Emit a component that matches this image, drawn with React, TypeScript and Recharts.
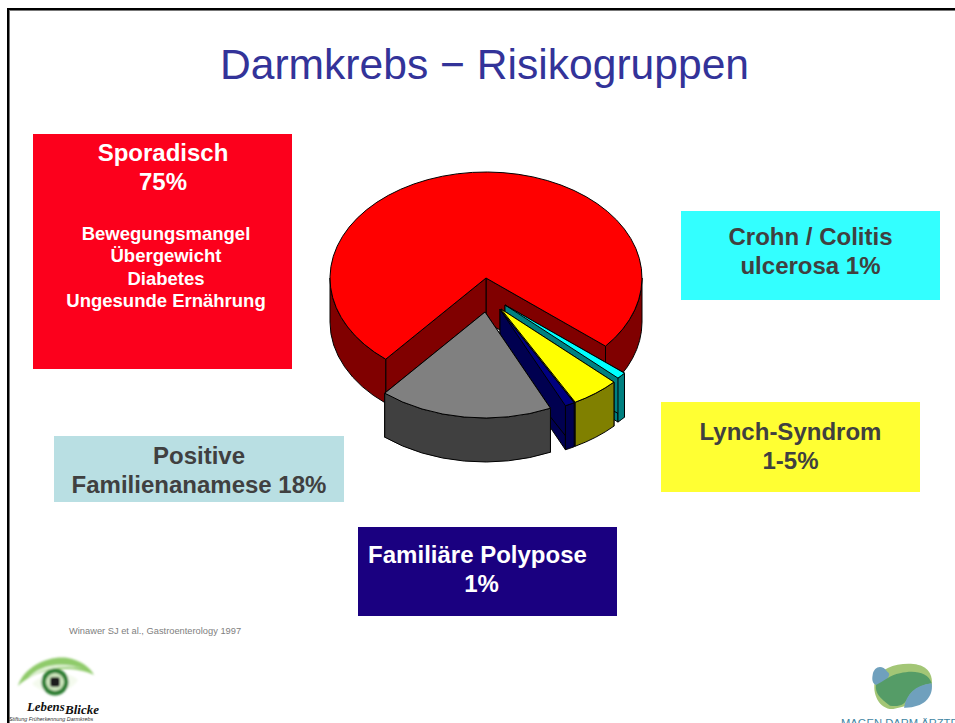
import { PieChart, Pie, Cell } from 'recharts';

const RISK_GROUPS = ['Sporadisch', 'Crohn / Colitis', 'Lynch-Syndrom', 'Familiäre Polypose', 'Positive Familienanamnese'];
const RISK_SHARES = [75, 1, 5, 1, 18];
const TOP_COLORS = ['#ff0000', '#00ffff', '#ffff00', '#000080', '#808080'];
const SIDE_COLORS = ['#800000', '#008080', '#808000', '#000050', '#404040'];
// how far each slice is pulled out of the pie
const PULL_X = [0, 19, 15, 14, -1];
const PULL_Y = [0, 27, 31, 31.5, 34];

const pieData = RISK_GROUPS.map((name, i) => ({ name, value: RISK_SHARES[i], index: i }));

const TITLE = 'Darmkrebs − Risikogruppen';
const SPORADIC_HEAD = ['Sporadisch', '75%'];
const SPORADIC_FACTORS = ['Bewegungsmangel', 'Übergewicht', 'Diabetes', 'Ungesunde Ernährung'];
const FAMILY_LINES = ['Positive', 'Familienanamese 18%'];
const CROHN_LINES = ['Crohn / Colitis', 'ulcerosa 1%'];
const LYNCH_LINES = ['Lynch-Syndrom', '1-5%'];
const POLYPOSIS_LINES = ['Familiäre Polypose', '1%'];
const SOURCE = 'Winawer SJ et al., Gastroenterology 1997';

const FONT = '"Liberation Sans", Arial, sans-serif';
const SQUASH = 106 / 156;
const DEPTH = 44;

function Slice3D(props: any) {
  const { cx, cy, outerRadius: rx, startAngle, endAngle, payload } = props;
  const i = payload.index ?? props.index;
  const ox = cx + PULL_X[i];
  const oy = cy + PULL_Y[i];
  const ry = rx * SQUASH;
  const lo = Math.min(startAngle, endAngle);
  const hi = Math.max(startAngle, endAngle);
  const pt = (deg: number, drop = 0) => {
    const a = (deg * Math.PI) / 180;
    return `${ox + rx * Math.cos(a)} ${oy - ry * Math.sin(a) + drop}`;
  };
  const large = hi - lo > 180 ? 1 : 0;
  const top = `M${ox} ${oy} L${pt(lo)} A${rx} ${ry} 0 ${large} 0 ${pt(hi)} Z`;
  const cut = (deg: number) => `M${ox} ${oy} L${pt(deg)} L${pt(deg, DEPTH)} L${ox} ${oy + DEPTH} Z`;

  // outer wall only shows on the lower half of the ellipse
  const walls: string[] = [];
  [-1, 0, 1].forEach((k) => {
    const a = Math.max(lo, 180 + 360 * k);
    const b = Math.min(hi, 360 + 360 * k);
    if (b > a) {
      walls.push(`M${pt(a)} A${rx} ${ry} 0 0 0 ${pt(b)} L${pt(b, DEPTH)} A${rx} ${ry} 0 0 1 ${pt(a, DEPTH)} Z`);
    }
  });

  const side = SIDE_COLORS[i];
  return (
    <g stroke="#000" strokeWidth={1} strokeLinejoin="round">
      <path d={cut(lo)} fill={side} />
      <path d={cut(hi)} fill={side} />
      {walls.map((d) => (
        <path key={d} d={d} fill={side} />
      ))}
      <path d={top} fill={TOP_COLORS[i]} />
    </g>
  );
}

function Box({ x, y, w, h, bg, color, lines, size = 24, lh = 29, pad = 0, shifts = [] }: any) {
  return (
    <div
      style={{
        position: 'absolute',
        left: x,
        top: y,
        width: w,
        height: h,
        background: bg,
        color,
        fontFamily: FONT,
        fontWeight: 700,
        fontSize: size,
        lineHeight: `${lh}px`,
        textAlign: 'center',
        paddingTop: pad,
        boxSizing: 'border-box',
        whiteSpace: 'nowrap',
      }}
    >
      {lines.map((l: string, i: number) => (
        <div key={l} style={{ position: 'relative', left: shifts[i] ?? 0 }}>
          {l}
        </div>
      ))}
    </div>
  );
}

function EyeLogo() {
  return (
    <svg width={120} height={73} viewBox="0 650 120 73" style={{ position: 'absolute', left: 0, top: 650 }}>
      <defs>
        <filter id="soft">
          <feGaussianBlur stdDeviation="0.8" />
        </filter>
      </defs>
      <g filter="url(#soft)">
        <path d="M18 686 C24 666 50 655 68 658 C80 660 90 667 94 675 C82 669 66 668 52 670 C38 672 26 678 18 686 Z" fill="#8fcb6a" />
        <path d="M28 678 C38 666 60 660 84 669 C70 665 48 666 28 678 Z" fill="#e4f4d8" />
        <path d="M32 684 C42 672 68 670 78 680 C70 693 48 698 32 684 Z" fill="#f4faee" />
        <circle cx={55} cy={682} r={13.5} fill="#2f7f34" />
        <circle cx={55} cy={682} r={9} fill="#cfe8bf" />
        <rect x={50} y={677} width={10} height={10} rx={3} fill="#1d1d1d" />
      </g>
      <text x={27} y={711} fontFamily='"Liberation Serif", serif' fontStyle="italic" fontWeight={700} fontSize={12.8} fill="#111">
        Lebens
      </text>
      <text x={65} y={713.5} fontFamily='"Liberation Serif", serif' fontStyle="italic" fontWeight={700} fontSize={13} fill="#111">
        Blicke
      </text>
      <text x={9} y={721} fontFamily={FONT} fontStyle="italic" fontSize={5.4} fill="#333">
        Stiftung Früherkennung Darmkrebs
      </text>
    </svg>
  );
}

function ClinicLogo() {
  return (
    <svg width={155} height={83} viewBox="800 640 155 83" style={{ position: 'absolute', left: 800, top: 640 }}>
      <g transform="translate(800 640) scale(0.3333)">
        <path d="M225 120 C240 85 290 68 340 72 C385 76 400 105 395 140 C385 180 330 195 280 207 C240 210 215 165 225 120 Z" fill="#a3c676" />
        <path d="M218 105 C222 80 245 72 262 95 C280 105 250 130 228 135 C218 130 215 120 218 105 Z" fill="#6fa0bd" />
        <path d="M228 135 C250 125 270 105 300 100 C340 90 385 95 395 130 C370 135 340 145 325 170 C315 195 300 200 270 197 C240 175 225 160 228 135 Z" fill="#559c67" />
        <path d="M395 130 C402 175 365 205 312 203 C318 165 345 135 395 130 Z" fill="#6fa0bd" />
      </g>
      <text x={841} y={727} fontFamily={FONT} fontSize={11.2} fill="#3f86a3">
        MAGEN DARM ÄRZTE
      </text>
    </svg>
  );
}

export default function App() {
  return (
    <div style={{ position: 'absolute', left: 0, top: 0, width: 955, height: 723, overflow: 'hidden', background: '#fff' }}>
      {/* slide frame, only the top and left edges are in the photo */}
      <div style={{ position: 'absolute', left: 7, top: 8, width: 960, height: 730, borderLeft: '2px solid #000', borderTop: '2px solid #000', boxShadow: 'inset 1px 1px 0 #777' }} />

      <div
        style={{
          position: 'absolute',
          left: 0,
          top: 38,
          width: 969,
          textAlign: 'center',
          fontFamily: FONT,
          fontSize: 42.6,
          lineHeight: '52px',
          color: '#333399',
          whiteSpace: 'nowrap',
        }}
      >
        {TITLE}
      </div>

      <div style={{ position: 'absolute', left: 0, top: 0 }}>
        <PieChart width={955} height={723} margin={{ top: 0, right: 0, bottom: 0, left: 0 }}>
          <Pie
            data={pieData}
            dataKey="value"
            nameKey="name"
            cx={486}
            cy={278}
            outerRadius={156}
            startAngle={230}
            endAngle={-130}
            stroke="none"
            isAnimationActive={false}
            shape={Slice3D}
          >
            {pieData.map((d, i) => (
              <Cell key={d.name} fill={TOP_COLORS[i]} />
            ))}
          </Pie>
        </PieChart>
      </div>

      <div style={{ position: 'absolute', left: 33, top: 134, width: 259, height: 235, background: '#fc001c' }} />
      <Box x={33} y={134} w={260} h={70} color="#fff" lines={SPORADIC_HEAD} pad={4} />
      <Box x={33} y={223} w={266} h={100} color="#fff" lines={SPORADIC_FACTORS} size={18.5} lh={22.4} />

      <Box x={54} y={436} w={290} h={66} bg="#b9dfe3" color="#404040" lines={FAMILY_LINES} pad={5} />
      <Box x={681} y={211} w={259} h={89} bg="#33ffff" color="#404040" lines={CROHN_LINES} pad={11} />
      <Box x={661} y={402} w={259} h={90} bg="#ffff33" color="#404040" lines={LYNCH_LINES} pad={15} />
      <Box x={358} y={527} w={259} h={89} bg="#1a0080" color="#fff" lines={POLYPOSIS_LINES} pad={13} shifts={[-10, -6]} />

      <div style={{ position: 'absolute', left: 69, top: 626, fontFamily: FONT, fontSize: 9.3, color: '#808080', whiteSpace: 'nowrap' }}>{SOURCE}</div>

      <EyeLogo />
      <ClinicLogo />
    </div>
  );
}
